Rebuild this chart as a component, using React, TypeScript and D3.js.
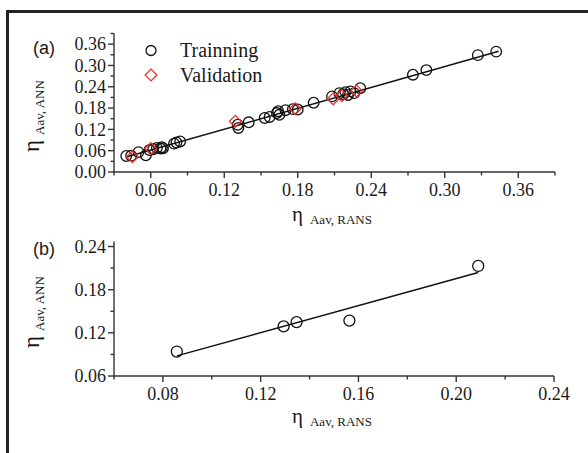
import React from "react";
import * as d3 from "d3";

// panel (a): eta_Aav RANS (x) vs ANN (y)
const trainA: [number, number][] = [
  [0.040, 0.045], [0.044, 0.046], [0.050, 0.056], [0.056, 0.047], [0.059, 0.062],
  [0.062, 0.064], [0.065, 0.068], [0.068, 0.066], [0.069, 0.070], [0.070, 0.067],
  [0.079, 0.080], [0.081, 0.083], [0.084, 0.086],
  [0.131, 0.133], [0.1315, 0.124], [0.140, 0.140], [0.153, 0.152], [0.157, 0.155],
  [0.163, 0.166], [0.164, 0.171], [0.165, 0.161], [0.170, 0.174], [0.176, 0.177],
  [0.180, 0.176], [0.193, 0.195], [0.208, 0.213], [0.214, 0.222], [0.217, 0.219],
  [0.219, 0.225], [0.221, 0.217], [0.223, 0.227], [0.226, 0.222], [0.231, 0.236],
  [0.274, 0.274], [0.285, 0.287], [0.327, 0.329], [0.342, 0.339],
];
const validA: [number, number][] = [
  [0.045, 0.043], [0.060, 0.066], [0.129, 0.143], [0.178, 0.178],
  [0.209, 0.206], [0.216, 0.215], [0.228, 0.228],
];
const fitA: [number, number][] = [[0.040, 0.042], [0.344, 0.340]];

// panel (b)
const pointsB: [number, number][] = [
  [0.0857, 0.094], [0.1294, 0.129], [0.1347, 0.135], [0.1563, 0.137], [0.209, 0.213],
];
const fitB: [number, number][] = [[0.0857, 0.088], [0.209, 0.204]];

const ticksAMajor = [0, 0.06, 0.12, 0.18, 0.24, 0.3, 0.36];
const ticksAMinor = [0.03, 0.09, 0.15, 0.21, 0.27, 0.33, 0.39];
const ticksBXMajor = [0.08, 0.12, 0.16, 0.2, 0.24];
const ticksBXMinor = [0.06, 0.1, 0.14, 0.18, 0.22];
const ticksBYMajor = [0.06, 0.12, 0.18, 0.24];
const ticksBYMinor = [0.09, 0.15, 0.21];

const SERIF = "Liberation Serif";
const SANS = "Liberation Sans";
const AX = "#333";
const INK = "#1a1a1a";
const RED = "#e8342c";

type Sc = d3.ScaleLinear<number, number>;

function Axes({ x, y, xMaj, xMin, yMaj, yMin, fmt }: {
  x: Sc; y: Sc; xMaj: number[]; xMin: number[]; yMaj: number[]; yMin: number[]; fmt: (v: number) => string;
}) {
  const [x0, x1] = x.range();
  const [y0, y1] = y.range();
  return (
    <g stroke={AX} strokeWidth={1.4}>
      <line x1={x0} x2={x1} y1={y0} y2={y0} />
      <line x1={x0} x2={x0} y1={y0} y2={y1} />
      {xMaj.map((v) => (
        <g key={"xm" + v}>
          <line x1={x(v)} x2={x(v)} y1={y0} y2={y0 + 6} />
          <text x={x(v)} y={y0 + 24} textAnchor="middle" stroke="none" fill={INK}
            fontFamily={SERIF} fontSize={18}>{fmt(v)}</text>
        </g>
      ))}
      {xMin.map((v) => (
        <line key={"xn" + v} x1={x(v)} x2={x(v)} y1={y0} y2={y0 + 3.5} />
      ))}
      {yMaj.map((v) => (
        <g key={"ym" + v}>
          <line x1={x0 - 6} x2={x0} y1={y(v)} y2={y(v)} />
          <text x={x0 - 8} y={y(v)} dy="0.34em" textAnchor="end" stroke="none" fill={INK}
            fontFamily={SERIF} fontSize={18}>{fmt(v)}</text>
        </g>
      ))}
      {yMin.map((v) => (
        <line key={"yn" + v} x1={x0 - 3.5} x2={x0} y1={y(v)} y2={y(v)} />
      ))}
    </g>
  );
}

function XTitle({ x, y, sub }: { x: number; y: number; sub: string }) {
  return (
    <text x={x} y={y} fontFamily={SERIF} fontSize={21} fill={INK}>
      η<tspan dx={7} dy={3} fontSize={13}>{sub}</tspan>
    </text>
  );
}

function YTitle({ x, y, sub }: { x: number; y: number; sub: string }) {
  return (
    <text transform={`translate(${x},${y}) rotate(-90)`} fontFamily={SERIF} fontSize={23} fill={INK}>
      η<tspan dx={5} dy={5} fontSize={13}>{sub}</tspan>
    </text>
  );
}

const diamond = d3.symbol(d3.symbolSquare, 70)();

export default function App() {
  const fmt = d3.format(".2f");

  const xa = d3.scaleLinear().domain([0.03, 0.39]).range([114, 555]);
  const ya = d3.scaleLinear().domain([0, 0.39]).range([172, 33.5]);
  const xb = d3.scaleLinear().domain([0.06, 0.24]).range([114, 554]);
  const yb = d3.scaleLinear().domain([0.06, 0.247]).range([376, 241.5]);

  const lineA = d3.line<[number, number]>().x((d) => xa(d[0])).y((d) => ya(d[1]));
  const lineB = d3.line<[number, number]>().x((d) => xb(d[0])).y((d) => yb(d[1]));

  return (
    <svg width={588} height={453} viewBox="0 0 588 453"
      style={{ position: "absolute", left: 0, top: 0, background: "#fff" }}>
      <rect width={588} height={453} fill="#fff" />
      {/* frame (cropped figure border) */}
      <path d="M7.5,453 V11.5 H588" fill="none" stroke="#222" strokeWidth={3} />

      {/* ---- panel (a) ---- */}
      <Axes x={xa} y={ya} xMaj={ticksAMajor.slice(1)} xMin={ticksAMinor}
        yMaj={ticksAMajor} yMin={ticksAMinor} fmt={fmt} />
      <path d={lineA(fitA) ?? ""} fill="none" stroke="#111" strokeWidth={1.5} />
      {trainA.map((d, i) => (
        <circle key={"t" + i} cx={xa(d[0])} cy={ya(d[1])} r={5.3} fill="none" stroke="#111" strokeWidth={1.3} />
      ))}
      {validA.map((d, i) => (
        <path key={"v" + i} d={diamond} transform={`translate(${xa(d[0])},${ya(d[1])}) rotate(45)`}
          fill="none" stroke={RED} strokeWidth={1.3} />
      ))}
      <text x={33} y={54} fontFamily={SANS} fontSize={18} fill={INK}>(a)</text>
      <circle cx={151} cy={50.5} r={5} fill="none" stroke="#111" strokeWidth={1.3} />
      <text x={180} y={57} fontFamily={SERIF} fontSize={20} fill={INK}>Trainning</text>
      <path d={diamond} transform="translate(151,75) rotate(45)" fill="none" stroke={RED} strokeWidth={1.3} />
      <text x={180} y={81.5} fontFamily={SERIF} fontSize={20} fill={INK}>Validation</text>
      <XTitle x={292} y={221} sub="Aav, RANS" />
      <YTitle x={39} y={152} sub="Aav, ANN" />

      {/* ---- panel (b) ---- */}
      <Axes x={xb} y={yb} xMaj={ticksBXMajor} xMin={ticksBXMinor}
        yMaj={ticksBYMajor} yMin={ticksBYMinor} fmt={fmt} />
      <path d={lineB(fitB) ?? ""} fill="none" stroke="#111" strokeWidth={1.5} />
      {pointsB.map((d, i) => (
        <circle key={"b" + i} cx={xb(d[0])} cy={yb(d[1])} r={5.5} fill="none" stroke="#111" strokeWidth={1.3} />
      ))}
      <text x={33} y={255} fontFamily={SANS} fontSize={18} fill={INK}>(b)</text>
      <XTitle x={292} y={423} sub="Aav, RANS" />
      <YTitle x={39} y={348} sub="Aav, ANN" />
    </svg>
  );
}
